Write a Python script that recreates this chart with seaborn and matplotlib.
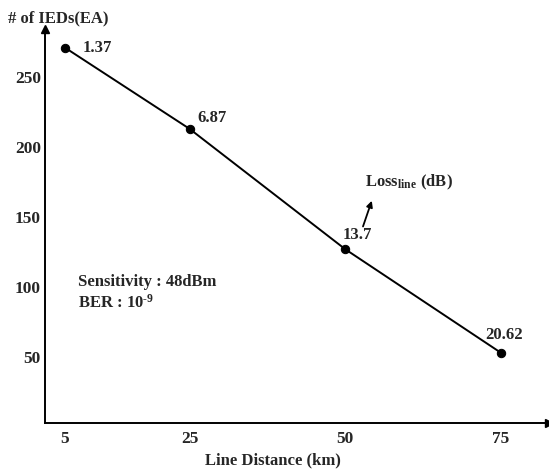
import matplotlib
matplotlib.use("Agg")
import matplotlib.pyplot as plt
import seaborn as sns
import pandas as pd

# data
distance_km = [5, 25, 50, 75]
ieds = [271, 213, 127, 53]
loss_db = ["1.37", "6.87", "13.7", "20.62"]
x_ticks = [5, 25, 50, 75]
y_ticks = [50, 100, 150, 200, 250]

sns.set_style("white")
plt.rcParams['font.family'] = ['Liberation Serif', 'DejaVu Serif']
plt.rcParams['font.weight'] = 'bold'
plt.rcParams['mathtext.fontset'] = 'custom'
plt.rcParams['mathtext.rm'] = 'Liberation Serif:bold'
plt.rcParams['mathtext.bf'] = 'Liberation Serif:bold'
plt.rcParams['mathtext.it'] = 'Liberation Serif:bold'

df = pd.DataFrame({"dist": distance_km, "ieds": ieds})

fig = plt.figure(figsize=(5.49, 4.72), dpi=100)
ax = fig.add_axes([45 / 549, 49 / 472, 504 / 549, 394 / 472])

sns.lineplot(data=df, x="dist", y="ieds", ax=ax, color="black", lw=1.4,
             marker="o", markersize=6, markeredgecolor="black")

ax.set_xlim(1.8, 82.7)
ax.set_ylim(2.9, 284.3)
ax.set_xticks(x_ticks)
ax.set_yticks(y_ticks)
ax.tick_params(axis="both", length=0, labelsize=12.5)
ax.tick_params(axis="x", pad=6)
ax.tick_params(axis="y", pad=3)
for lab in ax.get_xticklabels() + ax.get_yticklabels():
    lab.set_fontweight("bold")
ax.set_xlabel("")
ax.set_ylabel("")

for s in ["top", "right"]:
    ax.spines[s].set_visible(False)
for s in ["left", "bottom"]:
    ax.spines[s].set_linewidth(1.4)
    ax.spines[s].set_color("black")

# arrow heads on the axes
ax.plot(1, 0, ">", color="black", ms=6, transform=ax.transAxes, clip_on=False)
ax.plot(0, 1, "^", color="black", ms=6, transform=ax.transAxes, clip_on=False)

# point labels
offsets = [(13, 0, "left"), (6, 8, "left"), (-2, 10, "left"), (2, 13, "center")]
for x, y, lab, (dx, dy, ha) in zip(distance_km, ieds, loss_db, offsets):
    ax.annotate(lab, (x, y), xytext=(dx, dy), textcoords="offset points",
                ha=ha, va="center", fontsize=12, fontweight="bold")

ax.text(53.1, 175, r"Loss$_{\mathrm{line}}$ (dB)", fontsize=12,
        fontweight="bold", va="center", ha="left")
ax.annotate("", xy=(54.4, 163.5), xytext=(52.7, 141.4),
            arrowprops=dict(arrowstyle="-|>", color="black", lw=1.3,
                            mutation_scale=9))

ax.text(7.1, 103.6, "Sensitivity : 48dBm", fontsize=12, fontweight="bold",
        va="center", ha="left")
ax.text(7.1, 89.0, r"BER : 10$^{\text{-9}}$", fontsize=12, fontweight="bold",
        va="center", ha="left")

fig.text(58 / 549, 1 - 18 / 472, "# of IEDs(EA)", fontsize=12,
         fontweight="bold", ha="center", va="center")
fig.text(273 / 549, 1 - 460 / 472, "Line Distance (km)", fontsize=12,
         fontweight="bold", ha="center", va="center")

fig.savefig("out.png", dpi=100)
